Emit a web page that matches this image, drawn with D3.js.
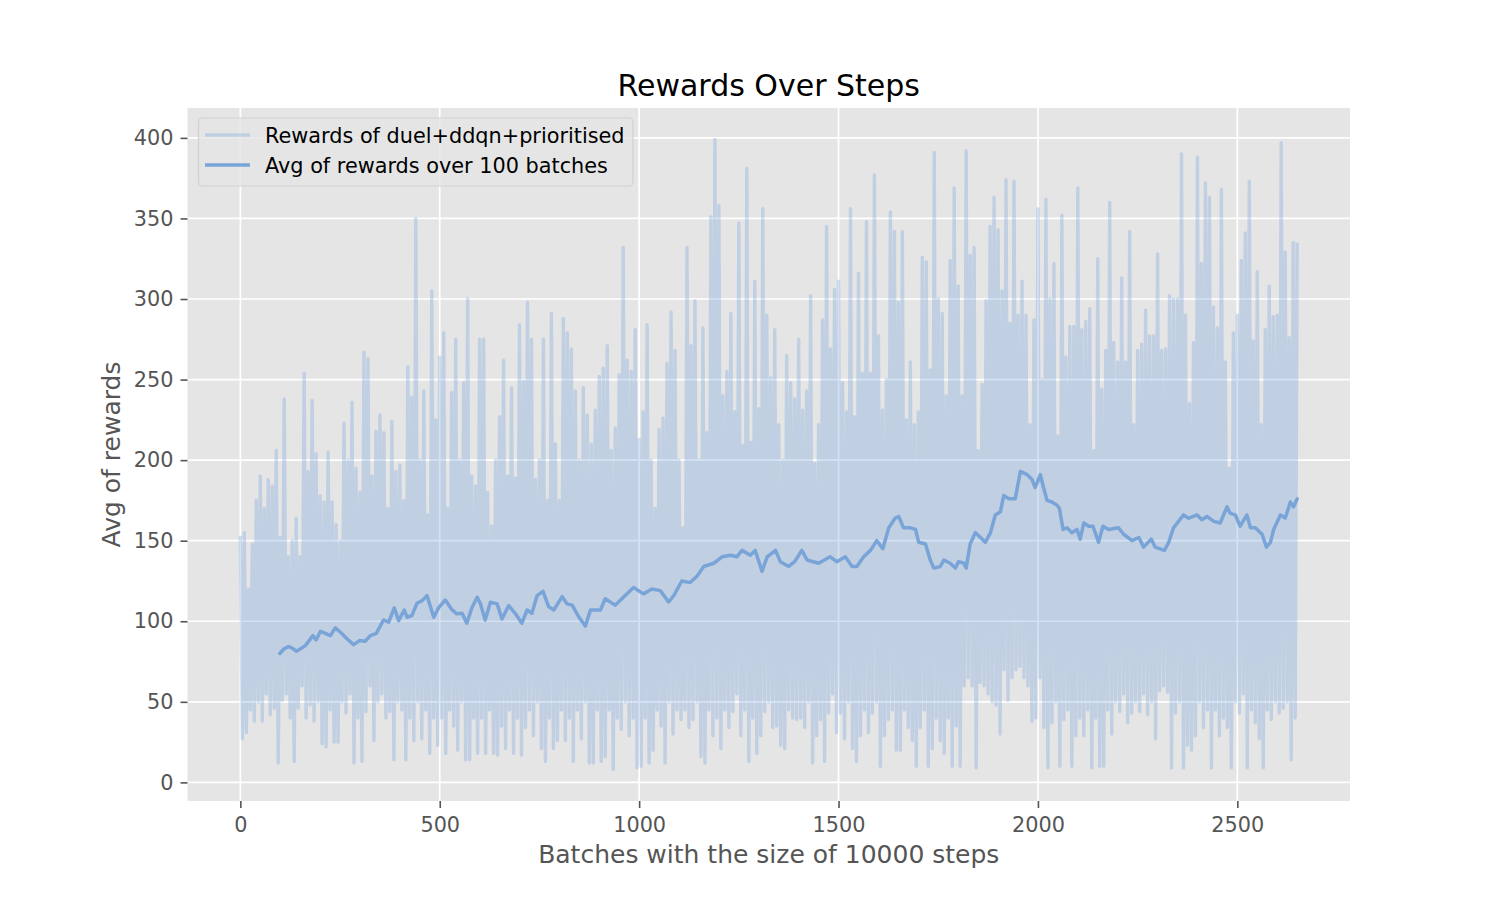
<!DOCTYPE html>
<html><head><meta charset="utf-8">
<script src="https://cdn.jsdelivr.net/npm/d3@7/dist/d3.min.js"></script>
<style>body{margin:0;background:#fff;} svg{display:block;font-family:"DejaVu Sans",sans-serif;}</style>
</head><body><svg id="c" width="1500" height="900"></svg>
<script>
// ---- data ----
// per 10-batch bin: highest reading (at batch 10k) and lowest reading (at batch 10k+5)
const rewardHighs = [
153,155,120,148,175,190,170,188,184,206,
152,238,140,150,164,140,254,193,237,204,
178,174,205,174,160,150,223,200,236,195,
180,267,263,190,218,228,217,170,224,193,
197,175,258,239,350,200,243,166,305,225,
264,279,170,242,275,200,248,300,190,184,
275,275,180,159,200,227,262,190,245,189,
284,249,298,275,188,200,275,175,291,210,
175,288,279,269,243,200,245,228,210,231,
252,257,271,206,220,253,332,262,255,281,
213,230,284,200,170,219,226,260,292,268,
200,158,332,271,299,200,282,217,351,399,
358,240,255,291,230,347,209,381,211,311,
232,356,290,251,281,222,200,265,248,238,
275,231,243,302,198,222,287,345,269,306,
311,248,230,356,227,316,254,348,254,377,
277,231,250,354,342,298,342,225,261,222,
230,326,323,256,391,300,291,240,324,369,
308,240,392,327,332,206,247,299,345,363,
343,305,374,285,373,290,311,290,222,287,
356,250,362,300,322,215,352,264,283,283,
369,281,286,294,206,325,244,268,360,273,
261,313,261,342,222,268,272,293,277,277,
328,268,269,302,300,300,390,290,235,273,
388,322,372,363,295,282,368,261,195,279,
290,324,341,373,274,317,222,281,308,289,
290,397,329,276,335,335
];
const rewardLows = [
27,31,45,38,50,38,55,42,46,12,
51,55,40,13,46,60,40,48,38,50,
24,22,45,25,25,50,43,55,12,40,
13,44,60,26,50,55,40,44,14,50,
45,14,40,26,50,27,45,18,40,23,
40,18,45,35,20,50,14,14,40,18,
40,18,45,18,17,35,21,45,18,40,
17,34,45,29,50,21,13,40,21,26,
45,26,40,13,45,27,50,12,12,45,
13,16,45,8,40,33,50,29,40,9,
10,40,12,20,45,35,12,50,30,45,
39,45,34,39,50,16,12,45,29,40,
21,45,34,44,55,29,45,13,40,18,
29,44,50,34,35,23,21,45,40,39,
40,34,50,12,29,39,13,43,55,31,
43,27,50,21,13,29,45,31,43,50,
10,29,39,45,20,20,45,34,26,10,
34,45,10,21,40,26,18,40,10,35,
10,60,65,60,9,62,60,55,50,48,
30,70,51,65,70,72,65,60,38,40,
65,34,9,37,50,10,39,45,10,29,
40,29,45,9,40,10,10,45,30,50,
44,55,37,43,50,44,55,42,50,27,
57,60,56,9,43,50,9,23,20,29,
50,34,45,9,45,29,40,34,9,50,
43,55,9,45,37,27,9,45,39,50,
43,46,50,14,40
];
const sampleStep = 5;

const avgBatches = [99,109,121,130,140,150,163,182,190,201,213,226,238,251,268,284,299,313,326,341,359,372,386,397,411,418,430,443,456,468,485,497,514,531,543,556,568,581,594,602,614,627,644,656,673,690,706,719,731,744,759,773,786,807,819,832,848,865,878,903,915,940,965,986,1011,1032,1053,1074,1087,1107,1128,1145,1162,1187,1208,1229,1245,1258,1279,1291,1308,1321,1342,1354,1375,1390,1408,1421,1450,1479,1496,1517,1534,1546,1563,1580,1596,1611,1626,1642,1651,1663,1680,1693,1701,1718,1730,1739,1755,1764,1780,1793,1801,1814,1820,1830,1843,1856,1868,1881,1893,1906,1914,1927,1943,1956,1973,1985,1993,2006,2014,2023,2035,2048,2054,2063,2073,2085,2098,2106,2115,2127,2138,2152,2163,2177,2202,2215,2236,2253,2265,2284,2294,2317,2328,2340,2365,2378,2399,2411,2424,2441,2457,2474,2482,2495,2507,2524,2533,2545,2562,2573,2583,2591,2608,2620,2633,2641,2650];
const avgValues = [80,82.8,84.3,83.4,81.4,82.8,84.9,91.1,88.4,93.8,92.5,91.1,95.9,93.2,89,85.5,88,87.6,91.1,92.5,100.8,99.4,108.3,100.4,107,102.5,103.5,111.2,112.8,115.9,102.5,108.3,113.2,107,104.6,105,98.8,108.7,114.9,110.8,100.8,111.8,110.8,101.4,109.7,104.6,98.8,107,105,115.9,118.6,109.1,107,115.3,110.8,110,103,97,107,107,114,110,116,121,117,120,119,112,116,125,124,128,134,136,140,141,140,144,141,144,131,140,144,137,134,137,144,138,136,140,137,140,134,134,140,144,150,145,158,164,165,158,158,157,149,148,138,133,134,138,136,133,137,136,133,148,155,152,149,155,166,168,178,176,176,193,191,188,183,191,183,175,174,172,170,157,158,155,157,151,161,159,159,149,159,157,158,154,150,152,146,151,146,144,149,158,166,164,166,163,165,162,161,171,167,166,159,166,158,158,154,146,149,157,166,164,174,171,176];

const xTicks = [0,500,1000,1500,2000,2500];
const yTicks = [0,50,100,150,200,250,300,350,400];
const titleText = "Rewards Over Steps";
const xLabel = "Batches with the size of 10000 steps";
const yLabel = "Avg of rewards";
const legendLabels = ["Rewards of duel+ddqn+prioritised", "Avg of rewards over 100 batches"];

// ---- build series ----
const rewards = [];
for (let k = 0; k < rewardHighs.length; k++) {
  rewards.push(rewardHighs[k]);
  if (k < rewardLows.length) rewards.push(rewardLows[k]);
}
const rawPts = rewards.map((v, i) => ({b: i * sampleStep, v}));
const avgPts = avgBatches.map((b, i) => ({b, v: avgValues[i]}));

// ---- layout ----
const L = 187.5, R = 1350, T = 108, B = 801;
const svg = d3.select("#c");
svg.append("rect").attr("width", 1500).attr("height", 900).attr("fill", "#fff");

const xe = d3.extent(rawPts, d => d.b), dx = xe[1] - xe[0];
const ye = d3.extent(rawPts.concat(avgPts), d => d.v), dy = ye[1] - ye[0];
const x = d3.scaleLinear().domain([xe[0] - 0.05 * dx, xe[1] + 0.05 * dx]).range([L, R]);
const y = d3.scaleLinear().domain([ye[0] - 0.05 * dy, ye[1] + 0.05 * dy]).range([B, T]);

svg.append("rect").attr("x", L).attr("y", T).attr("width", R - L).attr("height", B - T).attr("fill", "#E5E5E5");

const grid = svg.append("g").attr("stroke", "#fff").attr("stroke-width", 1.7);
grid.selectAll(".gx").data(xTicks).join("line")
  .attr("x1", d => x(d)).attr("x2", d => x(d)).attr("y1", T).attr("y2", B);
grid.selectAll(".gy").data(yTicks).join("line")
  .attr("y1", d => y(d)).attr("y2", d => y(d)).attr("x1", L).attr("x2", R);

svg.append("clipPath").attr("id", "clip").append("rect")
  .attr("x", L).attr("y", T).attr("width", R - L).attr("height", B - T);

const line = d3.line().x(d => x(d.b)).y(d => y(d.v));
const plot = svg.append("g").attr("clip-path", "url(#clip)");
const rawColor = "#6d9cde", rawOpacity = 0.3, avgColor = "#79a4d8";
plot.append("path").datum(rawPts).attr("d", line)
  .attr("fill", "none").attr("stroke", rawColor).attr("stroke-opacity", rawOpacity)
  .attr("stroke-width", 3.4).attr("stroke-linejoin", "round");
plot.append("path").datum(avgPts).attr("d", line)
  .attr("fill", "none").attr("stroke", avgColor)
  .attr("stroke-width", 3.5).attr("stroke-linejoin", "round").attr("stroke-linecap", "round");

// ---- axes ----
const gx = svg.append("g").attr("transform", `translate(0,${B})`)
  .call(d3.axisBottom(x).tickValues(xTicks).tickSize(7).tickPadding(9).tickFormat(d3.format("d")));
const gy = svg.append("g").attr("transform", `translate(${L},0)`)
  .call(d3.axisLeft(y).tickValues(yTicks).tickSize(7).tickPadding(7).tickFormat(d3.format("d")));
[gx, gy].forEach(g => {
  g.select(".domain").remove();
  g.selectAll(".tick line").attr("stroke", "#555").attr("stroke-width", 1.6);
  g.selectAll(".tick text").attr("fill", "#555").style("font-size", "20.8px")
    .style("font-family", "DejaVu Sans");
});

svg.append("text").attr("x", (L + R) / 2).attr("y", 96).attr("text-anchor", "middle")
  .style("font-size", "30px").attr("fill", "#000").text(titleText);
svg.append("text").attr("x", (L + R) / 2).attr("y", 863).attr("text-anchor", "middle")
  .style("font-size", "25px").attr("fill", "#555").text(xLabel);
svg.append("text").attr("transform", `translate(120,${(T + B) / 2}) rotate(-90)`).attr("text-anchor", "middle")
  .style("font-size", "25px").attr("fill", "#555").text(yLabel);

// ---- legend ----
const lg = svg.append("g");
lg.append("rect").attr("x", 198.5).attr("y", 118).attr("width", 434.5).attr("height", 68).attr("rx", 4)
  .attr("fill", "#E5E5E5").attr("fill-opacity", 0.8).attr("stroke", "#CCCCCC").attr("stroke-opacity", 0.8).attr("stroke-width", 1.2);
const items = [
  {label: legendLabels[0], color: rawColor, op: rawOpacity, yy: 135},
  {label: legendLabels[1], color: avgColor, op: 1, yy: 165}
];
items.forEach(it => {
  lg.append("line").attr("x1", 205).attr("x2", 250).attr("y1", it.yy).attr("y2", it.yy)
    .attr("stroke", it.color).attr("stroke-opacity", it.op).attr("stroke-width", 3.4);
  lg.append("text").attr("x", 265).attr("y", it.yy + 8).style("font-size", "20.8px").attr("fill", "#000").text(it.label);
});
</script></body></html>
